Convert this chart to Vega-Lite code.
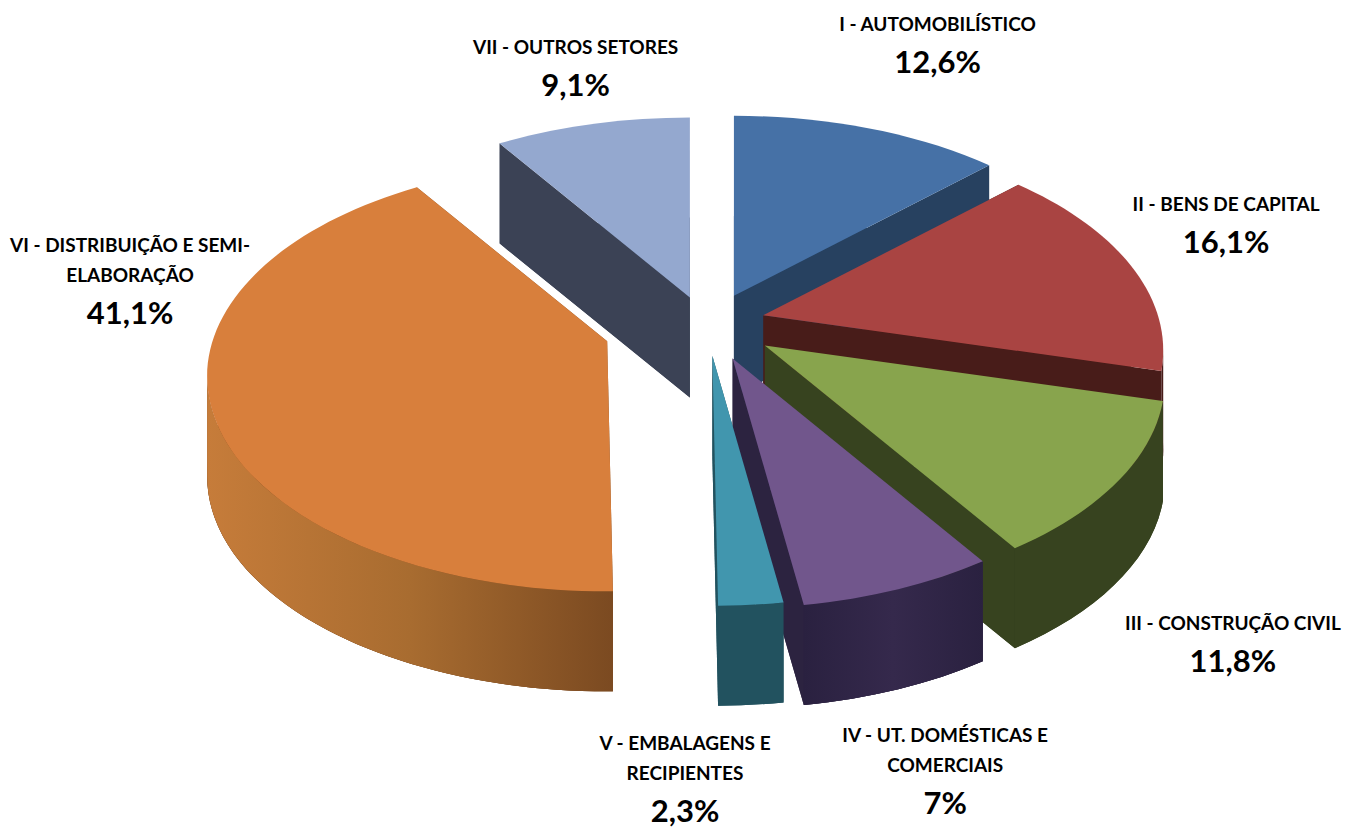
{"$schema":"https://vega.github.io/schema/vega-lite/v6.json","width":1356,"height":832,"padding":0,"autosize":{"type":"none"},"background":"white","config":{"view":{"stroke":null}},
"data":{"values":[
{"sector":"I","name":"I - AUTOMOBILÍSTICO","share":12.6,"pct":"12,6%"},
{"sector":"II","name":"II - BENS DE CAPITAL","share":16.1,"pct":"16,1%"},
{"sector":"III","name":"III - CONSTRUÇÃO CIVIL","share":11.8,"pct":"11,8%"},
{"sector":"IV","name":"IV - UT. DOMÉSTICAS E\nCOMERCIAIS","share":7,"pct":"7%"},
{"sector":"V","name":"V - EMBALAGENS E\nRECIPIENTES","share":2.3,"pct":"2,3%"},
{"sector":"VI","name":"VI - DISTRIBUIÇÃO E SEMI-\nELABORAÇÃO","share":41.1,"pct":"41,1%"},
{"sector":"VII","name":"VII - OUTROS SETORES","share":9.1,"pct":"9,1%"}]},
"transform":[
{"window":[{"op":"sum","field":"share","as":"cum"}]},
{"calculate":"(datum.cum-datum.share)*2*PI/100","as":"t0"},
{"calculate":"datum.cum*2*PI/100","as":"t1"},
{"calculate":"(datum.t0+datum.t1)/2","as":"m"},
{"calculate":"datum.t0-0.14*sin(datum.t0)","as":"a0"},
{"calculate":"datum.t1-0.14*sin(datum.t1)","as":"a1"},
{"calculate":"max(datum.a0,PI/2)","as":"b0"},
{"calculate":"min(datum.a1,3*PI/2)","as":"b1"},
{"calculate":"700+75*sin(datum.m)+{'I':5,'II':-9,'III':3,'IV':5,'V':6,'VI':-21,'VII':11}[datum.sector]","as":"cx"},
{"calculate":"325-36*cos(datum.m)+{'I':4,'II':0,'III':0,'IV':0,'V':-5,'VI':6,'VII':7}[datum.sector]","as":"cy"},
{"calculate":"round(40000*sin(datum.a0))/100","as":"x0"},
{"calculate":"round(100*(35-215*cos(datum.a0)))/100","as":"y0"},
{"calculate":"round(40000*sin(datum.a1))/100","as":"x1"},
{"calculate":"round(100*(35-215*cos(datum.a1)))/100","as":"y1"},
{"calculate":"round(40000*sin(datum.b0))/100","as":"u0"},
{"calculate":"round(100*(35-215*cos(datum.b0)))/100","as":"v0"},
{"calculate":"round(40000*sin(datum.b1))/100","as":"u1"},
{"calculate":"round(100*(35-215*cos(datum.b1)))/100","as":"v1"},
{"calculate":"'M0,0L'+datum.x0+','+datum.y0+'A400,215,0,0,1,'+datum.x1+','+datum.y1+'Z'","as":"pTop"},
{"calculate":"'M0,100L'+datum.x0+','+(datum.y0+100)+'A400,215,0,0,1,'+datum.x1+','+(datum.y1+100)+'Z'","as":"pBottom"},
{"calculate":"'M0,0L'+datum.x0+','+datum.y0+'L'+datum.x0+','+(datum.y0+100)+'L0,100Z'","as":"pSideA"},
{"calculate":"'M0,0L'+datum.x1+','+datum.y1+'L'+datum.x1+','+(datum.y1+100)+'L0,100Z'","as":"pSideB"},
{"calculate":"datum.b0<datum.b1?'M'+datum.u0+','+datum.v0+'A400,215,0,0,1,'+datum.u1+','+datum.v1+'L'+datum.u1+','+(datum.v1+100)+'A400,215,0,0,0,'+datum.u0+','+(datum.v0+100)+'Z':'M0,0L0,0Z'","as":"pBand"},
{"calculate":"686+590*sin(datum.m)+{'I':24,'II':-28,'III':61,'IV':42,'V':-51,'VI':9,'VII':56}[datum.sector]","as":"lx"},
{"calculate":"423-391*cos(datum.m)+{'I':2,'II':-73,'III':18,'IV':18,'V':0,'VI':-221,'VII':39}[datum.sector]","as":"ly"},
{"calculate":"datum.ly-29-(indexof(datum.name,'\\n')>=0?30:0)","as":"ny"}
],
"resolve":{"scale":{"fill":"independent"}},
"encoding":{
"x":{"field":"cx","type":"quantitative","scale":{"domain":[0,1356],"range":[0,1356]},"axis":null},
"y":{"field":"cy","type":"quantitative","scale":{"domain":[0,832],"range":[0,832]},"axis":null}
},
"layer":[
{"mark":{"type":"point","filled":true,"size":4,"opacity":1,"strokeWidth":0},"encoding":{"shape":{"field":"pBottom","type":"nominal","scale":null,"legend":null},"fill":{"field":"sector","type":"nominal","legend":null,"scale":{"domain":["I","II","III","IV","V","VI","VII"],"range":["#274160","#481C19","#37431F","#2C2340","#22525F","#7E4C22","#3B4255"]}}}},
{"mark":{"type":"point","filled":true,"size":4,"opacity":1,"strokeWidth":0},"encoding":{"shape":{"field":"pSideA","type":"nominal","scale":null,"legend":null},"fill":{"field":"sector","type":"nominal","legend":null,"scale":{"domain":["I","II","III","IV","V","VI","VII"],"range":["#274160","#481C19","#37431F","#2C2340","#22525F","#7E4C22","#3B4255"]}}}},
{"mark":{"type":"point","filled":true,"size":4,"opacity":1,"strokeWidth":0},"encoding":{"shape":{"field":"pSideB","type":"nominal","scale":null,"legend":null},"fill":{"field":"sector","type":"nominal","legend":null,"scale":{"domain":["I","II","III","IV","V","VI","VII"],"range":["#274160","#481C19","#37431F","#2C2340","#22525F","#7E4C22","#3B4255"]}}}},
{"mark":{"type":"point","filled":true,"size":4,"opacity":1,"strokeWidth":0},"encoding":{"shape":{"field":"pBand","type":"nominal","scale":null,"legend":null},"fill":{"field":"sector","type":"nominal","legend":null,"scale":{"domain":["I","II","III","IV","V","VI","VII"],"range":["#274160","#481C19","#37431F","#2C2340","#22525F","#7E4C22","#3B4255"]}}}},
{"transform":[{"filter":"datum.sector=='VI'"}],"mark":{"type":"point","filled":true,"size":4,"opacity":1,"strokeWidth":0,"fill":{"gradient":"linear","x1":0,"x2":1,"y1":0,"y2":0,"stops":[{"offset":0,"color":"#C67C3A"},{"offset":0.5,"color":"#A86C30"},{"offset":1,"color":"#7B4A21"}]}},"encoding":{"shape":{"field":"pBand","type":"nominal","scale":null,"legend":null}}},
{"transform":[{"filter":"datum.sector=='IV'"}],"mark":{"type":"point","filled":true,"size":4,"opacity":1,"strokeWidth":0,"fill":{"gradient":"linear","x1":0,"x2":1,"y1":0,"y2":0,"stops":[{"offset":0,"color":"#2A2140"},{"offset":0.5,"color":"#35294C"},{"offset":1,"color":"#2A2140"}]}},"encoding":{"shape":{"field":"pBand","type":"nominal","scale":null,"legend":null}}},
{"mark":{"type":"point","filled":true,"size":4,"opacity":1,"strokeWidth":0},"encoding":{"shape":{"field":"pTop","type":"nominal","scale":null,"legend":null},"fill":{"field":"sector","type":"nominal","legend":null,"scale":{"domain":["I","II","III","IV","V","VI","VII"],"range":["#4671A6","#A94442","#88A44D","#71568C","#4196AE","#D87F3C","#94A8CF"]}}}},
{"mark":{"type":"text","font":"Lato","fontWeight":"bold","fontSize":19,"lineBreak":"\n","lineHeight":30,"baseline":"bottom","align":"center","color":"#000000"},"encoding":{"x":{"field":"lx","type":"quantitative","scale":{"domain":[0,1356],"range":[0,1356]},"axis":null},"y":{"field":"ny","type":"quantitative","scale":{"domain":[0,832],"range":[0,832]},"axis":null},"text":{"field":"name"}}},
{"mark":{"type":"text","font":"Lato","fontWeight":"bold","fontSize":31,"baseline":"middle","align":"center","color":"#000000"},"encoding":{"x":{"field":"lx","type":"quantitative","scale":{"domain":[0,1356],"range":[0,1356]},"axis":null},"y":{"field":"ly","type":"quantitative","scale":{"domain":[0,832],"range":[0,832]},"axis":null},"text":{"field":"pct"}}}
]}
